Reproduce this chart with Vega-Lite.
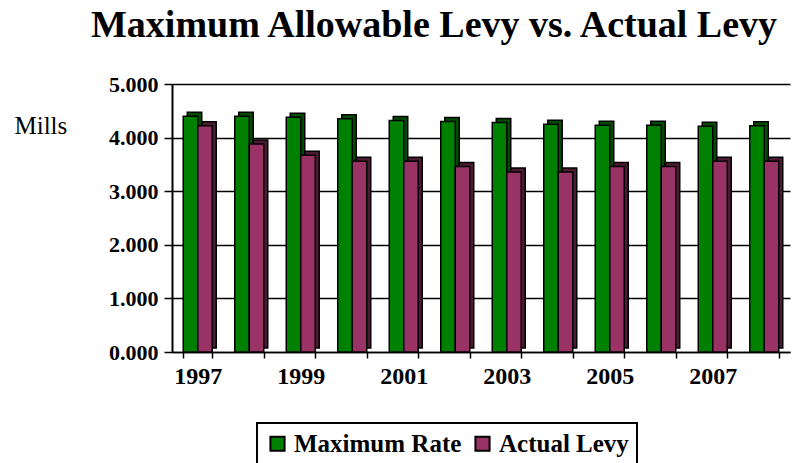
{
  "$schema": "https://vega.github.io/schema/vega-lite/v6.json",
  "autosize": {"type": "none"},
  "width": 624,
  "height": 268,
  "padding": {"left": 172, "top": 84, "right": 0, "bottom": 111},
  "background": "white",
  "config": {
    "view": {"stroke": null},
    "font": "Liberation Serif",
    "legend": {"strokeWidth": 2}
  },
  "title": {
    "text": "Maximum Allowable Levy vs. Actual Levy",
    "font": "Liberation Serif",
    "fontSize": 38,
    "fontWeight": "bold",
    "color": "black",
    "anchor": "middle",
    "frame": "group",
    "dx": -50,
    "dy": 28,
    "offset": 26,
    "baseline": "alphabetic"
  },
  "data": {
    "values": [
      {"year": "1997", "series": "Maximum Rate", "value": 4.40},
      {"year": "1997", "series": "Actual Levy", "value": 4.22},
      {"year": "1998", "series": "Maximum Rate", "value": 4.40},
      {"year": "1998", "series": "Actual Levy", "value": 3.88},
      {"year": "1999", "series": "Maximum Rate", "value": 4.38},
      {"year": "1999", "series": "Actual Levy", "value": 3.67},
      {"year": "2000", "series": "Maximum Rate", "value": 4.35},
      {"year": "2000", "series": "Actual Levy", "value": 3.56},
      {"year": "2001", "series": "Maximum Rate", "value": 4.32},
      {"year": "2001", "series": "Actual Levy", "value": 3.56},
      {"year": "2002", "series": "Maximum Rate", "value": 4.30},
      {"year": "2002", "series": "Actual Levy", "value": 3.46},
      {"year": "2003", "series": "Maximum Rate", "value": 4.28},
      {"year": "2003", "series": "Actual Levy", "value": 3.36},
      {"year": "2004", "series": "Maximum Rate", "value": 4.25},
      {"year": "2004", "series": "Actual Levy", "value": 3.36},
      {"year": "2005", "series": "Maximum Rate", "value": 4.23},
      {"year": "2005", "series": "Actual Levy", "value": 3.46},
      {"year": "2006", "series": "Maximum Rate", "value": 4.23},
      {"year": "2006", "series": "Actual Levy", "value": 3.46},
      {"year": "2007", "series": "Maximum Rate", "value": 4.21},
      {"year": "2007", "series": "Actual Levy", "value": 3.56},
      {"year": "2008", "series": "Maximum Rate", "value": 4.22},
      {"year": "2008", "series": "Actual Levy", "value": 3.56}
    ]
  },
  "encoding": {
    "x": {
      "field": "year",
      "type": "nominal",
      "sort": null,
      "scale": {"range": [0, 618], "paddingInner": 0.437, "paddingOuter": 0.2185},
      "axis": {
        "title": null,
        "labelAngle": 0,
        "labelFont": "Liberation Serif",
        "labelFontSize": 24,
        "labelFontWeight": "bold",
        "labelColor": "black",
        "labelPadding": 6,
        "labelExpr": "indexof(['1997','1999','2001','2003','2005','2007'], datum.value) >= 0 ? datum.label : ''",
        "tickBand": "extent",
        "tickColor": "black",
        "tickSize": 6,
        "tickWidth": 1.5,
        "domainColor": "black",
        "domainWidth": 1.5,
        "grid": false
      }
    },
    "y": {
      "field": "value",
      "type": "quantitative",
      "scale": {"domain": [0, 5], "nice": false, "zero": true},
      "axis": {
        "values": [0, 1, 2, 3, 4, 5],
        "format": ".3f",
        "title": "Mills",
        "titleAngle": 0,
        "titleX": -158,
        "titleY": 49,
        "titleAlign": "left",
        "titleBaseline": "alphabetic",
        "titleFont": "Liberation Serif",
        "titleFontSize": 25,
        "titleFontWeight": "normal",
        "titleColor": "black",
        "labelFont": "Liberation Serif",
        "labelFontSize": 22,
        "labelFontWeight": "bold",
        "labelColor": "black",
        "labelPadding": 6,
        "tickColor": "black",
        "tickSize": 8,
        "tickWidth": 1.5,
        "domainColor": "black",
        "domainWidth": 2,
        "grid": true,
        "gridColor": "black",
        "gridWidth": 1.5
      }
    }
  },
  "layer": [
    {
      "transform": [{"filter": "datum.series == 'Maximum Rate'"}],
      "mark": {"type": "bar", "width": 14.5, "xOffset": -3.25, "yOffset": -4, "stroke": "black", "strokeWidth": 1.5, "fill": "#004d00"}
    },
    {
      "transform": [{"filter": "datum.series == 'Actual Levy'"}],
      "mark": {"type": "bar", "width": 14.5, "xOffset": 11.25, "yOffset": -4, "stroke": "black", "strokeWidth": 1.5, "fill": "#4d1a33"}
    },
    {
      "transform": [{"filter": "datum.series == 'Maximum Rate'"}],
      "mark": {"type": "bar", "width": 14.5, "xOffset": -7.25, "stroke": "black", "strokeWidth": 1.5},
      "encoding": {
        "fill": {
          "field": "series",
          "type": "nominal",
          "scale": {"domain": ["Maximum Rate", "Actual Levy"], "range": ["#008000", "#993366"]},
          "legend": {
            "title": null,
            "orient": "none",
            "legendX": 85,
            "legendY": 339,
            "direction": "horizontal",
            "strokeColor": "black",
            "fillColor": "white",
            "padding": 8,
            "symbolType": "square",
            "symbolSize": 200,
            "symbolStrokeColor": "black",
            "symbolStrokeWidth": 2,
            "symbolOpacity": 1,
            "labelFont": "Liberation Serif",
            "labelFontSize": 25,
            "labelFontWeight": "bold",
            "labelColor": "black",
            "columnPadding": 8,
            "labelLimit": 300
          }
        }
      }
    },
    {
      "transform": [{"filter": "datum.series == 'Actual Levy'"}],
      "mark": {"type": "bar", "width": 14.5, "xOffset": 7.25, "stroke": "black", "strokeWidth": 1.5},
      "encoding": {
        "fill": {
          "field": "series",
          "type": "nominal",
          "scale": {"domain": ["Maximum Rate", "Actual Levy"], "range": ["#008000", "#993366"]}
        }
      }
    }
  ]
}
